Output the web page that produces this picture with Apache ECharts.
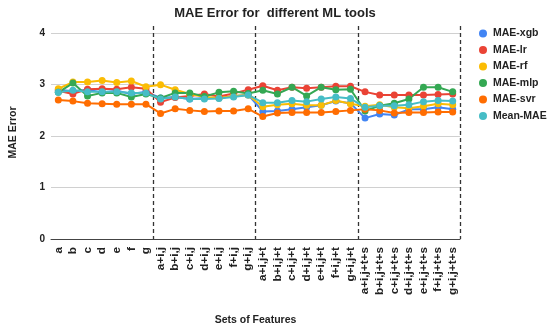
<!DOCTYPE html>
<html>
<head>
<meta charset="utf-8">
<script src="https://cdn.jsdelivr.net/npm/echarts@6/dist/echarts.min.js"></script>
<style>html,body{margin:0;padding:0;background:#fff}#c{width:550px;height:328px}</style>
</head>
<body>
<div id="c"></div>
<script>
const categories = ['a','b','c','d','e','f','g',
  'a+i,j','b+i,j','c+i,j','d+i,j','e+i,j','f+i,j','g+i,j',
  'a+i,j+t','b+i,j+t','c+i,j+t','d+i,j+t','e+i,j+t','f+i,j+t','g+i,j+t',
  'a+i,j+t+s','b+i,j+t+s','c+i,j+t+s','d+i,j+t+s','e+i,j+t+s','f+i,j+t+s','g+i,j+t+s'];
const maeXgb = [2.90,2.87,2.90,2.85,2.88,2.82,2.86, 2.74,2.76,2.72,2.74,2.74,2.78,2.80, 2.48,2.49,2.52,2.56,2.60,2.68,2.64, 2.35,2.43,2.41,2.52,2.52,2.56,2.52];
const maeLr  = [2.88,2.82,2.91,2.92,2.91,2.95,2.92, 2.66,2.75,2.78,2.82,2.77,2.83,2.90, 2.98,2.89,2.95,2.93,2.95,2.97,2.97, 2.86,2.80,2.80,2.80,2.80,2.81,2.82];
const maeRf  = [2.92,3.05,3.05,3.08,3.04,3.07,2.96, 3.00,2.90,2.82,2.76,2.74,2.78,2.80, 2.57,2.61,2.63,2.60,2.60,2.69,2.63, 2.58,2.61,2.56,2.54,2.58,2.63,2.61];
const maeMlp = [2.85,3.03,2.78,2.84,2.84,2.76,2.82, 2.74,2.84,2.84,2.77,2.85,2.87,2.83, 2.89,2.82,2.95,2.78,2.95,2.90,2.91, 2.49,2.59,2.64,2.72,2.95,2.95,2.86];
const maeSvr = [2.70,2.68,2.64,2.63,2.62,2.62,2.62, 2.44,2.53,2.50,2.48,2.49,2.49,2.53, 2.38,2.45,2.46,2.46,2.46,2.48,2.50, 2.52,2.50,2.45,2.46,2.46,2.47,2.47];
const meanMae= [2.85,2.89,2.86,2.86,2.86,2.84,2.84, 2.72,2.76,2.72,2.72,2.73,2.76,2.80, 2.65,2.65,2.69,2.67,2.72,2.76,2.73, 2.56,2.59,2.59,2.61,2.67,2.69,2.68];
const seriesNames = ['MAE-xgb','MAE-lr','MAE-rf','MAE-mlp','MAE-svr','Mean-MAE'];
const seriesData = [maeXgb, maeLr, maeRf, maeMlp, maeSvr, meanMae];
const colors = ['#4285F4','#EA4335','#FBBC04','#34A853','#FF6D01','#46BDC6'];
const groupStarts = [7, 14, 21];

const FONT = '"Liberation Sans", Arial, sans-serif';
const chart = echarts.init(document.getElementById('c'));
chart.setOption({
  animation: false,
  color: colors,
  textStyle: {fontFamily: FONT},
  title: {
    text: 'MAE Error for  different ML tools',
    left: 'center', top: 2,
    textStyle: {fontFamily: FONT, fontSize: 13, fontWeight: 'bold', color: '#222'}
  },
  legend: {
    orient: 'vertical', left: 479, top: 28, padding: 0,
    icon: 'circle', itemWidth: 8, itemHeight: 8, itemGap: 5.5,
    textStyle: {fontFamily: FONT, fontSize: 10.5, fontWeight: 'bold', color: '#222', padding: [0,0,0,1]},
    data: seriesNames
  },
  grid: {left: 51, right: 90, top: 26, bottom: 89, containLabel: false, outerBoundsMode: 'none'},
  xAxis: {
    type: 'category',
    data: categories,
    boundaryGap: true,
    name: 'Sets of Features',
    nameLocation: 'middle',
    nameGap: 76,
    nameTextStyle: {fontFamily: FONT, fontSize: 10.5, fontWeight: 'bold', color: '#222'},
    axisLine: {show: true, lineStyle: {color: '#444', width: 1}},
    axisTick: {show: false},
    axisLabel: {rotate: 90, interval: 0, margin: 8, fontFamily: FONT, fontSize: 11.75, fontWeight: 'bold', color: '#222'},
    splitLine: {
      show: true,
      interval: function (index) { return groupStarts.indexOf(index) >= 0; },
      lineStyle: {color: '#333', type: [4, 3], width: 1.3}
    }
  },
  yAxis: {
    type: 'value',
    min: 0, max: 4.14, interval: 1,
    name: 'MAE Error',
    nameLocation: 'middle',
    nameGap: 32,
    nameTextStyle: {fontFamily: FONT, fontSize: 10.5, fontWeight: 'bold', color: '#222'},
    axisLine: {show: false},
    axisTick: {show: false},
    axisLabel: {showMaxLabel: false, margin: 6, fontFamily: FONT, fontSize: 10, fontWeight: 'bold', color: '#222'},
    splitLine: {show: true, showMaxLine: false, showMinLine: false, lineStyle: {color: '#d0d0d0', width: 1}}
  },
  series: seriesNames.map((n, i) => ({
    name: n,
    type: 'line',
    data: seriesData[i],
    symbol: 'circle',
    symbolSize: 7,
    lineStyle: {width: 2},
    itemStyle: {color: colors[i]}
  }))
});
</script>
</body>
</html>
